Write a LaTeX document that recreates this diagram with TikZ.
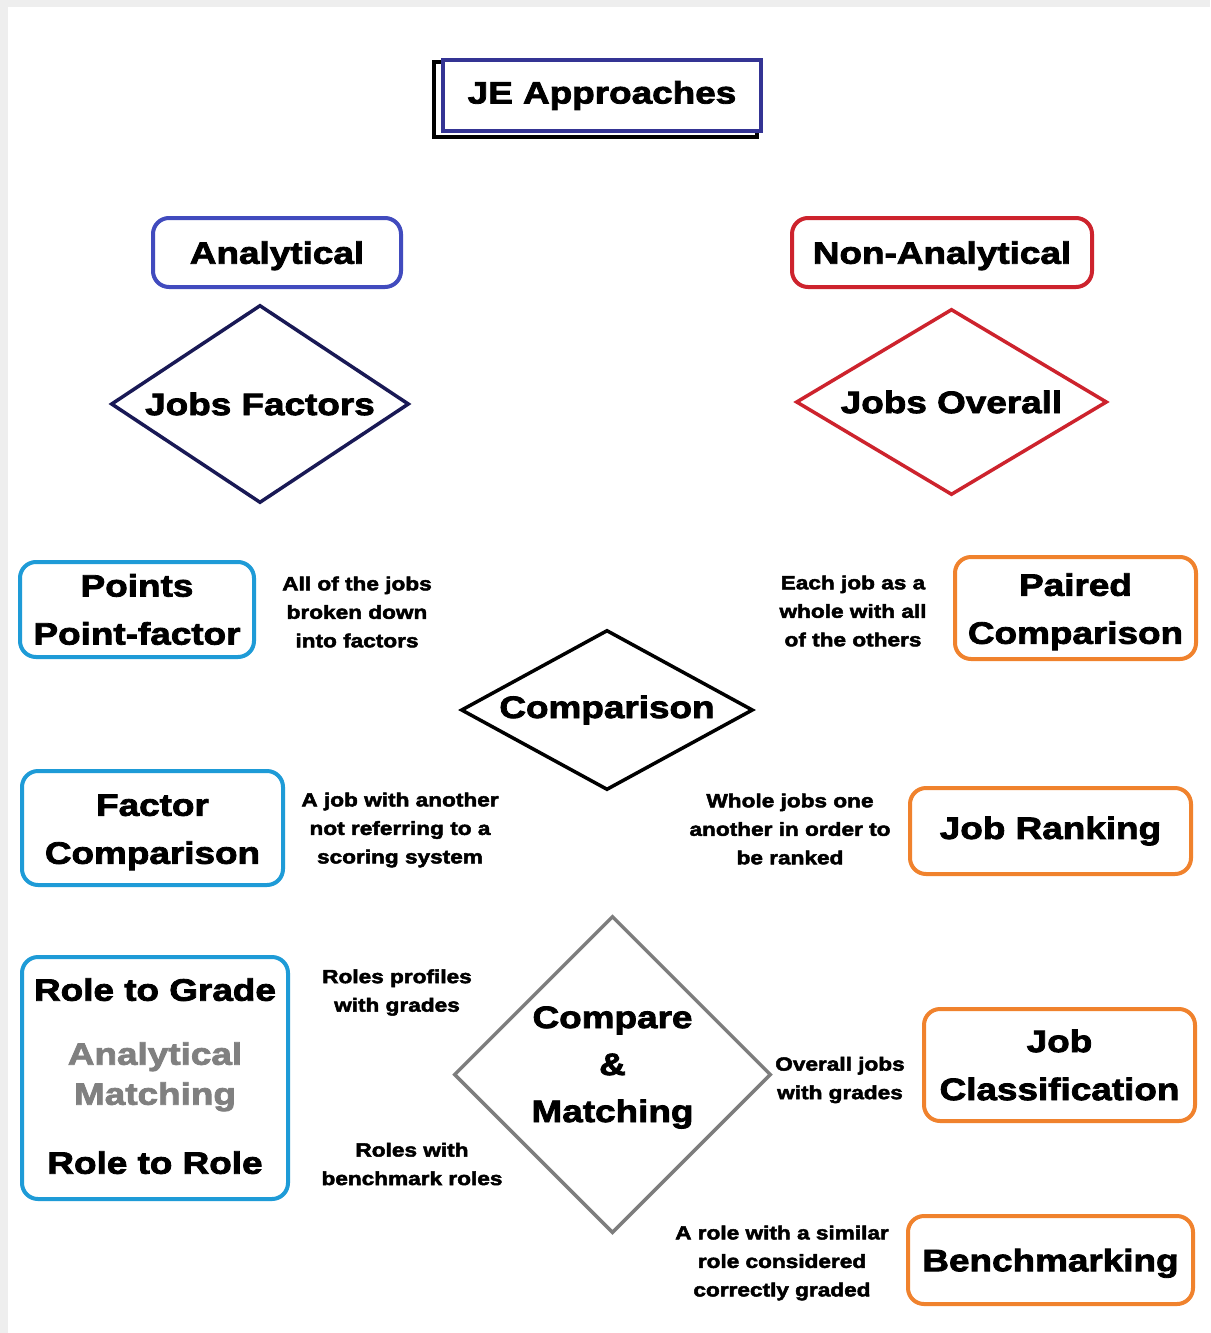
\documentclass[tikz,border=0pt]{standalone}
\usepackage{fontspec}
\newfontfamily\blk{Liberation Sans Bold}[FakeBold=2.6,FakeStretch=1.19]
\usetikzlibrary{shapes.geometric,calc}

\definecolor{titleblue}{RGB}{52,52,148}
\definecolor{anblue}{RGB}{65,75,190}
\definecolor{nared}{RGB}{205,35,45}
\definecolor{navy}{RGB}{25,25,85}
\definecolor{cyanbox}{RGB}{30,155,215}
\definecolor{orangebox}{RGB}{240,130,45}
\definecolor{graydia}{RGB}{125,125,125}
\definecolor{graytext}{RGB}{128,128,128}
\definecolor{edgegray}{RGB}{238,238,238}

% extra room above the first line, to lower a two-line label slightly
\newcommand{\lowerby}{\rule{0pt}{30pt}}
% extra room below the last line, to raise a label slightly
\newcommand{\raiseby}{\rule[-4pt]{0pt}{0pt}}

\begin{document}
\begin{tikzpicture}[x=1pt,y=-1pt,
  bigfont/.style={font=\blk\fontsize{31}{48}\selectfont},
  smalltxt/.style={font=\blk\fontsize{19}{28.5}\selectfont, align=center, inner sep=0pt},
  box/.style={draw, line width=4pt, rounded corners=16pt, fill=white, bigfont,
    align=center, inner sep=0pt},
  dia/.style={diamond, draw, line width=3.5pt, bigfont, align=center, inner sep=0pt},
]
% page and soft edge
\useasboundingbox (0,0) rectangle (1210,1333);
\fill[white] (0,0) rectangle (1210,1333);
\fill[edgegray] (0,0) rectangle (1210,7);
\fill[edgegray] (0,0) rectangle (8,1333);

% title with offset frame
\node[draw=black, line width=4pt, minimum width=323pt, minimum height=75pt,
  inner sep=0pt] (shadow) at (595.5,99.5) {};
\node[draw=titleblue, line width=4pt, fill=white, minimum width=318pt,
  minimum height=71pt, bigfont, inner sep=0pt] (title) at (602,95.5) {JE Approaches};

% two main approaches
\node[box, draw=anblue, minimum width=248pt, minimum height=69pt, text depth=0pt] (anal) at (277,252.5) {Analytical};
\node[box, draw=nared, minimum width=300pt, minimum height=69pt, text depth=0pt] (nonanal) at (942,252.5) {Non-Analytical};

\node[dia, draw=navy, minimum width=298pt, minimum height=198pt, aspect=1.5] (jf) at (260,404) {Jobs Factors};
\node[dia, draw=nared, minimum width=311pt, minimum height=186pt, aspect=1.67] (jo) at (951.5,402) {Jobs Overall};

% methods
\node[box, draw=cyanbox, minimum width=234pt, minimum height=95pt] (points) at (137,609.5) {Points\\Point-factor};
\node[box, draw=orangebox, minimum width=241pt, minimum height=102pt] (paired) at (1075.5,608) {\lowerby Paired\\Comparison};

\node[dia, draw=black, minimum width=292pt, minimum height=160pt, aspect=1.825] (cmp) at (607,710) {Comparison};

\node[box, draw=cyanbox, minimum width=261pt, minimum height=114pt] (factor) at (152.5,828) {\lowerby Factor\\Comparison};
\node[box, draw=orangebox, minimum width=281pt, minimum height=86pt] (ranking) at (1050.5,831) {Job Ranking};

\node[box, draw=cyanbox, minimum width=266pt, minimum height=242pt] (role) at (155,1078)
  {Role to Grade\\[16pt]\textcolor{graytext}{Analytical}\\[-8pt]\textcolor{graytext}{Matching}\\[21pt]Role to Role\raiseby};

\node[dia, draw=graydia, minimum width=317pt, minimum height=317pt, aspect=1] (cm) at (612.5,1074.5) {};
\node[align=center, inner sep=0pt, font=\blk\fontsize{31}{47}\selectfont] (cmtext) at ($(cm)+(0,-7)$) {Compare\\\&\\Matching};

\node[box, draw=orangebox, minimum width=271pt, minimum height=112pt] (classif) at (1059.5,1065) {Job\\Classification};
\node[box, draw=orangebox, minimum width=285pt, minimum height=88pt, text depth=0pt] (bench) at (1050.5,1260) {Benchmarking};

% descriptions
\node[smalltxt] (d1) at (357,612) {All of the jobs\\broken down\\into factors};
\node[smalltxt] (d2) at (853,611) {Each job as a\\whole with all\\of the others};
\node[smalltxt] (d3) at (400,830) {A job with another\\not referring to a\\scoring system};
\node[smalltxt] (d4) at (790,829) {Whole jobs one\\another in order to\\be ranked};
\node[smalltxt] (d5) at (397,992.5) {Roles profiles\\with grades};
\node[smalltxt] (d6) at (412,1164) {Roles with\\benchmark roles};
\node[smalltxt] (d7) at (840,1080) {Overall jobs\\with grades};
\node[smalltxt] (d8) at (782,1263) {A role with a similar\\role considered\\correctly graded};
\end{tikzpicture}
\end{document}
